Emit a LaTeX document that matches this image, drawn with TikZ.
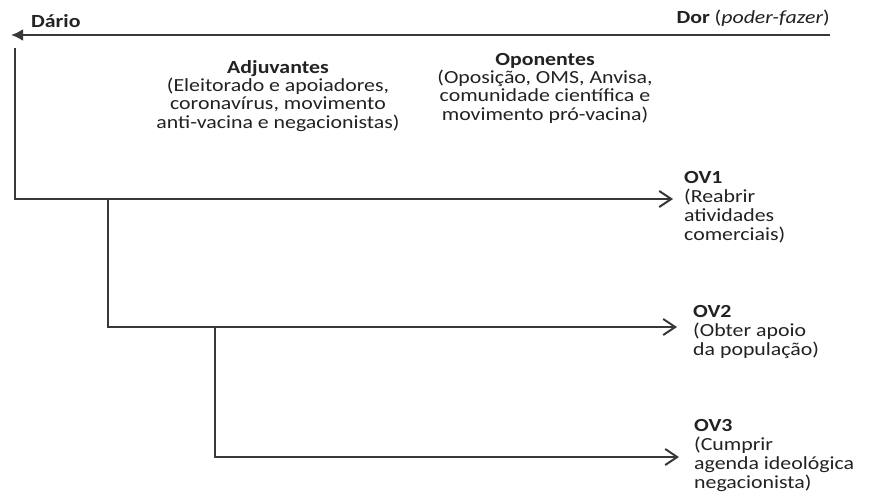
\documentclass[tikz,border=0pt]{standalone}
\usepackage{fontspec}
\setmainfont{Carlito}[FakeStretch=1.18]
\usetikzlibrary{arrows.meta}
\definecolor{ink}{HTML}{222222}
\definecolor{wire}{HTML}{383838}
\tikzset{
  lbl/.style={inner sep=0pt, text=ink, font=\fontsize{18.5}{18.3}\selectfont},
  ovlbl/.style={lbl, align=left, anchor=base west, font=\fontsize{18.5}{18.7}\selectfont},
  wireline/.style={draw=wire, line width=1.9pt},
  goal/.style={wireline, -{Straight Barb[length=12pt,width=16pt,line width=2pt]}},
  mainarrow/.style={draw=wire, line width=2.3pt, -{Latex[length=12pt,width=12pt]}}
}
\begin{document}
\begin{tikzpicture}[x=1pt,y=-1pt]
\useasboundingbox (0,0) rectangle (870,496);
\fill[white] (0,0) rectangle (870,496);
% labels (base anchor of a multi-line node = baseline of its last line)
\node[lbl, anchor=base west] (dario) at (31,27) {\textbf{Dário}};
\node[lbl, anchor=base east] (dor) at (830,23) {\textbf{Dor} (\textit{poder-fazer})};
\node[lbl, align=center, anchor=base] (adj) at (278,128) {\textbf{Adjuvantes}\\(Eleitorado e apoiadores,\\coronavírus, movimento\\anti-vacina e negacionistas)};
\node[lbl, align=center, anchor=base] (opp) at (545,120) {\textbf{Oponentes}\\(Oposição, OMS, Anvisa,\\comunidade científica e\\movimento pró-vacina)};
\node[ovlbl] (ov1) at (684,240) {\textbf{OV1}\\(Reabrir\\atividades\\comerciais)};
\node[ovlbl] (ov2) at (693,355) {\textbf{OV2}\\(Obter apoio\\da população)};
\node[ovlbl] (ov3) at (694,488) {\textbf{OV3}\\(Cumprir\\agenda ideológica\\negacionista)};
% coordinates
\coordinate (topR) at (830,35);
\coordinate (topL) at (11,35);
\coordinate (s0) at (15,48);
\coordinate (c1) at (15,199);
\coordinate (e1) at (673,199);
\coordinate (b1) at (108,199);
\coordinate (c2) at (108,327);
\coordinate (e2) at (677,327);
\coordinate (b2) at (215,327);
\coordinate (c3) at (215,457);
\coordinate (e3) at (679,457);
% connectors
\draw[mainarrow] (topR) -- (topL);
\draw[goal] (s0) -- (c1) -- (e1);
\draw[goal] (b1) -- (c2) -- (e2);
\draw[goal] (b2) -- (c3) -- (e3);
\end{tikzpicture}
\end{document}
